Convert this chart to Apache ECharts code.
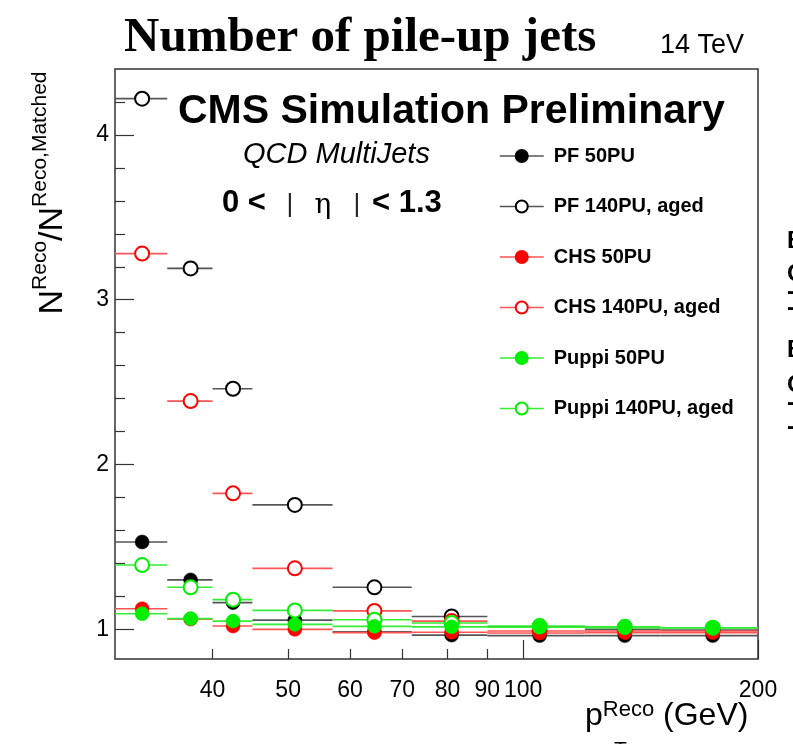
<!DOCTYPE html>
<html><head><meta charset="utf-8">
<script src="https://cdn.jsdelivr.net/npm/echarts@6/dist/echarts.min.js"></script>
<style>html,body{margin:0;padding:0;background:#fff;}#c{width:793px;height:744px;}</style>
</head><body><div id="c"></div>
<script>
// ---- data ----
const binLow    = [30, 35, 40, 45, 57, 72, 90, 120, 150];
const binHigh   = [35, 40, 45, 57, 72, 90, 120, 150, 200];
const binCenter = [32.5, 37.5, 42.5, 51, 64.5, 81, 105, 135, 175];

const pf50      = [1.53, 1.30, 1.162, 1.056, 0.985, 0.965, 0.962, 0.962, 0.962];
const pf140     = [4.22, 3.19, 2.46, 1.755, 1.255, 1.078, 1.015, 1.0, 0.995];
const chs50     = [1.125, 1.062, 1.02, 1.0, 0.98, 0.982, 0.978, 0.98, 0.98];
const chs140    = [3.28, 2.385, 1.825, 1.37, 1.112, 1.05, 0.99, 0.99, 0.99];
const puppi50   = [1.095, 1.065, 1.05, 1.03, 1.018, 1.015, 1.013, 1.01, 1.008];
const puppi140  = [1.39, 1.255, 1.18, 1.115, 1.058, 1.038, 1.02, 1.015, 1.01];

const seriesNames = ['PF 50PU', 'PF 140PU, aged', 'CHS 50PU', 'CHS 140PU, aged', 'Puppi 50PU', 'Puppi 140PU, aged'];
const seriesValues = [pf50, pf140, chs50, chs140, puppi50, puppi140];
const seriesOpen = [false, true, false, true, false, true];
const markerColors = ['#000000', '#000000', '#ff0000', '#ff0000', '#00ee00', '#00ee00'];
const lineColors = ['#555555', '#555555', '#ff5555', '#ff5555', '#33ee33', '#33ee33'];
// drawing order (open markers under filled ones)
const drawOrder = [1, 0, 3, 2, 5, 4];

const xLabelValues = [40, 50, 60, 70, 80, 90, 100, 200];
const xShortTicks = [40, 50, 60, 70, 80, 90];
const xLongTicks = [100, 200];
const yLabelValues = [1, 2, 3, 4];
const yMinorTicks = [1.2, 1.4, 1.6, 1.8, 2.2, 2.4, 2.6, 2.8, 3.2, 3.4, 3.6, 3.8, 4.2];

// ---- chart ----
const chart = echarts.init(document.getElementById('c'), null, {renderer: 'canvas'});
const FONT = 'Liberation Sans, Arial, Helvetica, sans-serif';

const series = [];
seriesNames.forEach((name, i) => {
  const vals = seriesValues[i];
  const rank = drawOrder.indexOf(i);
  series.push({
    type: 'custom',
    name: name + ' err',
    xAxisIndex: 0, yAxisIndex: 0,
    silent: true,
    clip: true,
    encode: {x: [0, 1], y: 2},
    data: vals.map((v, k) => [binLow[k], binHigh[k], v]),
    renderItem: (params, api) => {
      const y = api.value(2);
      const p1 = api.coord([api.value(0), y]);
      const p2 = api.coord([api.value(1), y]);
      return {type: 'line', shape: {x1: p1[0], y1: p1[1], x2: p2[0], y2: p2[1]},
              style: {stroke: lineColors[i], lineWidth: 1.6}};
    },
    z: 2 + rank * 2
  });
  series.push({
    type: 'line',
    name: name,
    xAxisIndex: 0, yAxisIndex: 0,
    data: vals.map((v, k) => [binCenter[k], v]),
    symbol: seriesOpen[i] ? 'emptyCircle' : 'circle',
    symbolSize: 14,
    showSymbol: true,
    lineStyle: {opacity: 0, color: lineColors[i], width: 1.5},
    itemStyle: seriesOpen[i]
      ? {color: markerColors[i], borderColor: markerColors[i], borderWidth: 1.5}
      : {color: markerColors[i], borderColor: markerColors[i], borderWidth: 0.5},
    emphasis: {disabled: true},
    animation: false,
    z: 3 + rank * 2
  });
});

const yTitleRich = {
  b: {fontSize: 34, fontFamily: FONT, lineHeight: 46, color: '#000'},
  s: {fontSize: 21, fontFamily: FONT, lineHeight: 21, verticalAlign: 'top', color: '#000'}
};

const edgeText = (t, y) => ({type: 'text', x: 787, y: y, style: {text: t, fontFamily: FONT, fontWeight: 'bold', fontSize: 24, fill: '#000', verticalAlign: 'middle', align: 'left'}});

const option = {
  backgroundColor: '#ffffff',
  animation: false,
  grid: {left: 115, right: 35, top: 69, bottom: 85, show: true, borderColor: '#333', borderWidth: 1.5, backgroundColor: 'transparent'},
  xAxis: [
    {type: 'log', logBase: 10, min: 30, max: 200, position: 'bottom',
     axisLine: {show: false}, splitLine: {show: false},
     axisTick: {show: true, inside: true, length: 10, customValues: xShortTicks, lineStyle: {color: '#333', width: 1.2}},
     axisLabel: {show: true, margin: 20, fontSize: 23, fontFamily: FONT, color: '#000', customValues: xLabelValues, formatter: v => String(v)}},
    {type: 'log', logBase: 10, min: 30, max: 200, position: 'bottom',
     axisLine: {show: false}, splitLine: {show: false}, axisLabel: {show: false},
     axisTick: {show: true, inside: true, length: 19, customValues: xLongTicks, lineStyle: {color: '#333', width: 1.2}}}
  ],
  yAxis: [
    {type: 'value', min: 0.82, max: 4.4, position: 'left',
     axisLine: {show: false}, splitLine: {show: false},
     axisTick: {show: true, inside: true, length: 19, customValues: yLabelValues, lineStyle: {color: '#333', width: 1.2}},
     axisLabel: {show: true, margin: 6, fontSize: 23, fontFamily: FONT, color: '#000', customValues: yLabelValues, formatter: v => String(v)}},
    {type: 'value', min: 0.82, max: 4.4, position: 'left',
     axisLine: {show: false}, splitLine: {show: false}, axisLabel: {show: false},
     axisTick: {show: true, inside: true, length: 10, customValues: yMinorTicks, lineStyle: {color: '#333', width: 1.2}}}
  ],
  legend: {
    orient: 'vertical', left: 499, top: 146, padding: 0, itemWidth: 44, itemHeight: 15, itemGap: 30.5,
    selectedMode: false,
    textStyle: {fontFamily: FONT, fontWeight: 'bold', fontSize: 20, color: '#000', padding: [0, 0, 0, 5]},
    data: seriesNames.map((n, i) => ({name: n, lineStyle: {color: lineColors[i], width: 1.5, opacity: 1}}))
  },
  graphic: [
    {type: 'text', x: 124, y: 38, style: {text: 'Number of pile-up jets', fontFamily: 'Liberation Serif, Times New Roman, serif', fontWeight: 'bold', fontSize: 49, fill: '#000', verticalAlign: 'middle', align: 'left'}},
    {type: 'text', x: 744, y: 46, style: {text: '14 TeV', fontFamily: FONT, fontSize: 27, fill: '#000', verticalAlign: 'middle', align: 'right'}},
    {type: 'text', x: 178, y: 112, style: {text: 'CMS Simulation Preliminary', fontFamily: FONT, fontWeight: 'bold', fontSize: 41, fill: '#000', verticalAlign: 'middle', align: 'left'}},
    {type: 'text', x: 243, y: 155, style: {text: 'QCD MultiJets', fontFamily: FONT, fontStyle: 'italic', fontSize: 29, fill: '#000', verticalAlign: 'middle', align: 'left'}},
    {type: 'text', x: 222, y: 203, style: {text: '0 <', fontFamily: FONT, fontWeight: 'bold', fontSize: 31, fill: '#000', verticalAlign: 'middle', align: 'left'}},
    {type: 'text', x: 290, y: 205, style: {text: '|', fontFamily: FONT, fontSize: 26, fill: '#222', verticalAlign: 'middle', align: 'center'}},
    {type: 'text', x: 323, y: 206, style: {text: 'η', fontFamily: 'DejaVu Serif, serif', fontSize: 28, fill: '#000', verticalAlign: 'middle', align: 'center'}},
    {type: 'text', x: 357, y: 205, style: {text: '|', fontFamily: FONT, fontSize: 26, fill: '#222', verticalAlign: 'middle', align: 'center'}},
    {type: 'text', x: 372, y: 203, style: {text: '< 1.3', fontFamily: FONT, fontWeight: 'bold', fontSize: 31, fill: '#000', verticalAlign: 'middle', align: 'left'}},
    {type: 'text', x: 53, y: 193, rotation: Math.PI / 2, style: {text: '{b|N}{s|Reco}{b|/N}{s|Reco,Matched}', rich: yTitleRich, align: 'center', verticalAlign: 'middle'}},
    {type: 'text', x: 585, y: 716, style: {text: '{b|p}{s|Reco}{b| (GeV)}', rich: {
        b: {fontSize: 32, fontFamily: FONT, lineHeight: 34, color: '#000'},
        s: {fontSize: 22, fontFamily: FONT, lineHeight: 22, verticalAlign: 'top', color: '#000'}}, align: 'left', verticalAlign: 'middle'}},
    {type: 'text', x: 614, y: 750, style: {text: 'T', fontFamily: FONT, fontSize: 21, fill: '#000', verticalAlign: 'middle', align: 'left'}},
    edgeText('B', 241), edgeText('C', 274), edgeText('-', 292), edgeText('-', 308),
    edgeText('B', 350), edgeText('C', 385), edgeText('-', 403), edgeText('-', 427)
  ],
  series: series
};
chart.setOption(option);
</script>
</body></html>
